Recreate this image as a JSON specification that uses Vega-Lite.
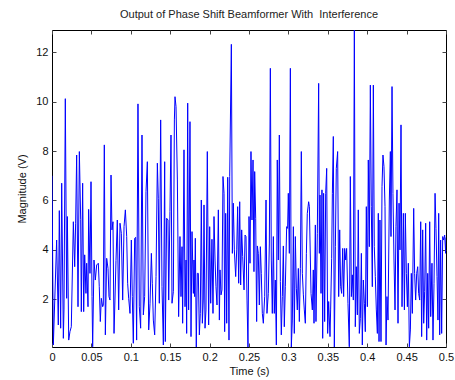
{
  "$schema": "https://vega.github.io/schema/vega-lite/v6.json",
  "autosize": "none",
  "width": 394,
  "height": 317,
  "padding": {"left": 52, "top": 30, "right": 9, "bottom": 33},
  "background": "white",
  "title": {"text": "Output of Phase Shift Beamformer With\u00a0 Interference", "font": "Liberation Sans", "fontSize": 11, "fontWeight": "normal", "color": "#222222", "offset": 10, "anchor": "middle"},
  "config": {
    "view": {"stroke": "black", "strokeWidth": 1},
    "axis": {"domain": false, "grid": false, "labelFlush": false, "labelFont": "Liberation Sans", "labelFontSize": 11, "labelColor": "#111111", "titleFont": "Liberation Sans", "titleFontSize": 11, "titleFontWeight": "normal", "titleColor": "#111111", "tickColor": "#444444", "tickSize": -4, "labelPadding": 8}
  },
  "data": {"values": [
    {"t":0,"v":7.0},{"t":0.0017,"v":0.15},{"t":0.0059,"v":4.4},{"t":0.008,"v":0.96},{"t":0.0093,"v":5.59},{"t":0.011,"v":0.83},{"t":0.0123,"v":6.7},{"t":0.0144,"v":0.42},{"t":0.0152,"v":1.57},{"t":0.0169,"v":10.12},{"t":0.0186,"v":2.04},{"t":0.0195,"v":5.35},{"t":0.0212,"v":0.35},{"t":0.0228,"v":0.69},{"t":0.0245,"v":0.89},{"t":0.0271,"v":5.14},{"t":0.0288,"v":3.32},{"t":0.03,"v":5.08},{"t":0.0313,"v":7.84},{"t":0.033,"v":1.7},{"t":0.0347,"v":7.98},{"t":0.0364,"v":5.24},{"t":0.0372,"v":1.5},{"t":0.0389,"v":6.7},{"t":0.0402,"v":1.5},{"t":0.0415,"v":3.8},{"t":0.0431,"v":2.24},{"t":0.044,"v":3.46},{"t":0.0457,"v":1.7},{"t":0.0465,"v":5.64},{"t":0.0482,"v":3.05},{"t":0.0495,"v":6.76},{"t":0.0508,"v":2.11},{"t":0.0516,"v":0.08},{"t":0.0533,"v":3.59},{"t":0.055,"v":2.78},{"t":0.0567,"v":3.39},{"t":0.0588,"v":3.46},{"t":0.06,"v":2.51},{"t":0.0613,"v":1.1},{"t":0.0626,"v":2.04},{"t":0.0643,"v":1.7},{"t":0.0651,"v":1.77},{"t":0.0664,"v":8.25},{"t":0.0677,"v":0.56},{"t":0.0694,"v":3.66},{"t":0.0711,"v":3.25},{"t":0.0723,"v":2.11},{"t":0.0736,"v":1.97},{"t":0.0749,"v":7.03},{"t":0.0761,"v":4.81},{"t":0.0774,"v":5.14},{"t":0.0787,"v":0.62},{"t":0.0799,"v":1.97},{"t":0.0812,"v":3.57},{"t":0.0829,"v":5.21},{"t":0.0846,"v":1.57},{"t":0.0863,"v":5.08},{"t":0.088,"v":4.67},{"t":0.0897,"v":1.97},{"t":0.0914,"v":4.94},{"t":0.0931,"v":5.62},{"t":0.0948,"v":4.54},{"t":0.096,"v":2.65},{"t":0.0973,"v":2.04},{"t":0.099,"v":1.43},{"t":0.1007,"v":4.4},{"t":0.1019,"v":2.11},{"t":0.1032,"v":0.22},{"t":0.1049,"v":4.47},{"t":0.1062,"v":4.51},{"t":0.1074,"v":0.35},{"t":0.1091,"v":9.91},{"t":0.1108,"v":1.7},{"t":0.1125,"v":0.83},{"t":0.1142,"v":8.65},{"t":0.1159,"v":1.37},{"t":0.1176,"v":2.11},{"t":0.1193,"v":6.36},{"t":0.121,"v":7.57},{"t":0.1227,"v":0.76},{"t":0.1244,"v":1.84},{"t":0.1261,"v":3.86},{"t":0.1273,"v":2.65},{"t":0.1286,"v":1.16},{"t":0.1303,"v":0.56},{"t":0.132,"v":2.92},{"t":0.1337,"v":7.51},{"t":0.1349,"v":6.09},{"t":0.1362,"v":1.84},{"t":0.1379,"v":9.26},{"t":0.1396,"v":2.51},{"t":0.1413,"v":0.15},{"t":0.143,"v":7.57},{"t":0.1438,"v":0.29},{"t":0.1455,"v":5.28},{"t":0.1472,"v":5.21},{"t":0.1481,"v":1.97},{"t":0.1497,"v":5.55},{"t":0.151,"v":8.65},{"t":0.1523,"v":1.84},
    {"t":0.154,"v":2.31},{"t":0.1553,"v":9.26},{"t":0.1561,"v":10.2},{"t":0.1574,"v":9.8},{"t":0.1591,"v":6.83},{"t":0.1607,"v":1.3},{"t":0.1624,"v":4.54},{"t":0.1637,"v":2.11},{"t":0.165,"v":4.13},{"t":0.1658,"v":1.03},{"t":0.1675,"v":8.05},{"t":0.1688,"v":1.7},{"t":0.1701,"v":3.59},{"t":0.1709,"v":0.62},{"t":0.1722,"v":9.94},{"t":0.1734,"v":1.57},{"t":0.1751,"v":9.19},{"t":0.1764,"v":0.49},{"t":0.1777,"v":4.74},{"t":0.1794,"v":2.24},{"t":0.1802,"v":3.59},{"t":0.181,"v":2.11},{"t":0.1819,"v":4.47},{"t":0.1831,"v":0.07},{"t":0.1844,"v":3.05},{"t":0.1857,"v":3.05},{"t":0.187,"v":0.56},{"t":0.1882,"v":1.43},{"t":0.1895,"v":6.02},{"t":0.1908,"v":1.03},{"t":0.192,"v":1.97},{"t":0.1929,"v":5.82},{"t":0.1942,"v":0.83},{"t":0.1954,"v":1.57},{"t":0.1971,"v":7.98},{"t":0.1988,"v":0.96},{"t":0.2001,"v":4.94},{"t":0.2014,"v":1.84},{"t":0.203,"v":4.43},{"t":0.2043,"v":1.43},{"t":0.2056,"v":5.35},{"t":0.2069,"v":3.59},{"t":0.2081,"v":2.51},{"t":0.2094,"v":1.77},{"t":0.2111,"v":5.62},{"t":0.2124,"v":1.16},{"t":0.2132,"v":3.19},{"t":0.2145,"v":2.18},{"t":0.2157,"v":2.38},{"t":0.217,"v":6.97},{"t":0.2183,"v":6.29},{"t":0.2191,"v":0.69},{"t":0.2204,"v":5.48},{"t":0.2217,"v":1.03},{"t":0.223,"v":6.94},{"t":0.2246,"v":0.35},{"t":0.2255,"v":6.97},{"t":0.2276,"v":12.32},{"t":0.2289,"v":3.86},{"t":0.2301,"v":5.89},{"t":0.2314,"v":4.0},{"t":0.2331,"v":2.92},{"t":0.2344,"v":4.0},{"t":0.2356,"v":5.75},{"t":0.2369,"v":2.65},{"t":0.2382,"v":5.95},{"t":0.2394,"v":2.58},{"t":0.2407,"v":4.81},{"t":0.242,"v":3.73},{"t":0.2437,"v":2.38},{"t":0.245,"v":4.6},{"t":0.2462,"v":4.54},{"t":0.2475,"v":1.97},{"t":0.2487,"v":0.07},{"t":0.25,"v":5.35},{"t":0.2513,"v":3.46},{"t":0.2525,"v":7.98},{"t":0.2538,"v":5.21},{"t":0.2551,"v":7.64},{"t":0.2563,"v":3.12},{"t":0.2572,"v":7.17},{"t":0.2585,"v":5.28},{"t":0.2597,"v":1.1},{"t":0.2606,"v":4.16},{"t":0.2618,"v":3.86},{"t":0.2631,"v":1.77},{"t":0.2644,"v":4.13},{"t":0.2656,"v":3.05},{"t":0.2669,"v":1.43},{"t":0.2682,"v":1.03},{"t":0.2699,"v":2.11},{"t":0.2716,"v":6.02},{"t":0.2728,"v":1.43},{"t":0.2745,"v":2.24},{"t":0.2758,"v":4.24},{"t":0.2771,"v":11.35},{"t":0.2783,"v":3.59},{"t":0.2796,"v":1.43},{"t":0.2809,"v":4.54},{"t":0.2821,"v":1.43},{"t":0.2834,"v":2.78},{"t":0.2847,"v":0.15},{"t":0.2859,"v":7.64},{"t":0.2872,"v":3.59},{"t":0.2885,"v":8.65},{"t":0.2898,"v":2.72},{"t":0.291,"v":0.56},{"t":0.2923,"v":2.11},{"t":0.2936,"v":4.16},{"t":0.2948,"v":0.89},{"t":0.2961,"v":2.51},{"t":0.2978,"v":4.94},{"t":0.299,"v":4.87},{"t":0.2999,"v":6.29},{"t":0.3012,"v":3.86},{"t":0.3025,"v":11.35},{"t":0.3037,"v":0.07},{"t":0.305,"v":1.16},{"t":0.3063,"v":4.94},{"t":0.3075,"v":0.62},{"t":0.3088,"v":4.54},{"t":0.3101,"v":2.45},{"t":0.3113,"v":1.57},{"t":0.3126,"v":3.25},{"t":0.3139,"v":1.1},{"t":0.3152,"v":3.25},{"t":0.3164,"v":7.98},{"t":0.3177,"v":3.05},{"t":0.319,"v":2.18},{"t":0.3202,"v":1.57},{"t":0.3215,"v":1.03},{"t":0.3228,"v":3.86},{"t":0.324,"v":5.48},{"t":0.3257,"v":5.95},{"t":0.3266,"v":5.75},
    {"t":0.3287,"v":2.24},{"t":0.3304,"v":1.57},{"t":0.3316,"v":3.19},{"t":0.3325,"v":1.03},{"t":0.3342,"v":5.01},{"t":0.335,"v":1.1},{"t":0.3367,"v":4.67},{"t":0.3384,"v":10.74},{"t":0.3393,"v":3.86},{"t":0.3401,"v":6.22},{"t":0.3414,"v":2.24},{"t":0.3426,"v":6.43},{"t":0.3435,"v":0.42},{"t":0.3447,"v":6.29},{"t":0.346,"v":1.1},{"t":0.3473,"v":6.29},{"t":0.3486,"v":7.3},{"t":0.3498,"v":0.62},{"t":0.3511,"v":1.91},{"t":0.3528,"v":0.49},{"t":0.3536,"v":1.57},{"t":0.3549,"v":3.66},{"t":0.3558,"v":6.29},{"t":0.357,"v":8.59},{"t":0.3583,"v":0.07},{"t":0.3596,"v":4.13},{"t":0.3608,"v":7.3},{"t":0.3625,"v":7.98},{"t":0.3638,"v":2.11},{"t":0.3651,"v":4.81},{"t":0.3663,"v":2.51},{"t":0.3676,"v":2.24},{"t":0.3689,"v":4.06},{"t":0.3701,"v":2.11},{"t":0.3714,"v":4.06},{"t":0.3727,"v":3.59},{"t":0.3739,"v":4.06},{"t":0.3756,"v":1.84},{"t":0.3773,"v":0.08},{"t":0.3786,"v":6.97},{"t":0.3799,"v":2.11},{"t":0.3811,"v":2.99},{"t":0.3824,"v":1.97},{"t":0.3837,"v":12.9},{"t":0.3849,"v":0.89},{"t":0.3862,"v":3.32},{"t":0.3875,"v":1.37},{"t":0.3887,"v":5.62},{"t":0.39,"v":0.62},{"t":0.3913,"v":1.23},{"t":0.3926,"v":3.86},{"t":0.3938,"v":0.15},{"t":0.3951,"v":2.78},{"t":0.3964,"v":1.84},{"t":0.3976,"v":0.69},{"t":0.3989,"v":5.75},{"t":0.4002,"v":1.7},{"t":0.4014,"v":7.64},{"t":0.4027,"v":4.13},{"t":0.404,"v":10.67},{"t":0.4052,"v":5.75},{"t":0.4065,"v":2.51},{"t":0.4078,"v":10.67},{"t":0.409,"v":4.13},{"t":0.4103,"v":2.92},{"t":0.4116,"v":1.57},{"t":0.4129,"v":0.62},{"t":0.4141,"v":5.48},{"t":0.415,"v":0.29},{"t":0.4162,"v":5.21},{"t":0.4175,"v":0.29},{"t":0.4188,"v":6.56},{"t":0.42,"v":7.84},{"t":0.4213,"v":7.37},{"t":0.4226,"v":5.75},{"t":0.4239,"v":0.15},{"t":0.4251,"v":2.11},{"t":0.4264,"v":1.16},{"t":0.4281,"v":6.02},{"t":0.4294,"v":7.98},{"t":0.4302,"v":4.54},{"t":0.4315,"v":10.61},{"t":0.4327,"v":6.29},{"t":0.434,"v":3.59},{"t":0.4353,"v":1.57},{"t":0.4365,"v":4.94},{"t":0.4378,"v":6.43},{"t":0.4391,"v":1.03},{"t":0.4404,"v":5.89},{"t":0.4416,"v":4.0},{"t":0.4429,"v":9.06},{"t":0.4442,"v":1.7},{"t":0.4459,"v":5.48},{"t":0.4472,"v":1.57},{"t":0.4484,"v":5.48},{"t":0.4497,"v":3.05},{"t":0.451,"v":1.7},{"t":0.4522,"v":3.46},{"t":0.4535,"v":0.08},{"t":0.4548,"v":0.76},{"t":0.456,"v":3.05},{"t":0.4573,"v":1.43},{"t":0.459,"v":5.68},{"t":0.4602,"v":3.05},{"t":0.4615,"v":1.97},{"t":0.4628,"v":3.05},{"t":0.4641,"v":3.32},{"t":0.4653,"v":2.24},{"t":0.4666,"v":1.97},{"t":0.4679,"v":5.14},{"t":0.4691,"v":0.49},{"t":0.4704,"v":4.81},{"t":0.4717,"v":1.03},{"t":0.4729,"v":2.31},{"t":0.4742,"v":5.08},{"t":0.4755,"v":0.35},{"t":0.4768,"v":3.05},{"t":0.478,"v":0.83},{"t":0.4793,"v":5.14},{"t":0.4806,"v":1.3},{"t":0.4822,"v":3.46},{"t":0.4835,"v":0.35},{"t":0.4848,"v":2.65},{"t":0.4861,"v":6.29},{"t":0.4873,"v":4.87},{"t":0.4886,"v":2.92},{"t":0.4898,"v":1.16},{"t":0.4907,"v":5.48},{"t":0.492,"v":0.56},{"t":0.4932,"v":4.4},{"t":0.4945,"v":0.62},{"t":0.4958,"v":4.54},{"t":0.497,"v":4.4},{"t":0.4983,"v":4.6},{"t":0.4996,"v":3.86},{"t":0.5,"v":4.5}
  ]},
  "layer": [
    {
      "mark": {"type": "line", "color": "#0000ff", "strokeWidth": 1, "clip": true, "interpolate": "linear"},
      "encoding": {
        "x": {"field": "t", "type": "quantitative", "scale": {"domain": [0, 0.5], "nice": false, "zero": false},
              "axis": {"orient": "bottom", "values": [0, 0.05, 0.1, 0.15, 0.2, 0.25, 0.3, 0.35, 0.4, 0.45, 0.5], "format": ".2~f", "title": "Time (s)", "titlePadding": 3}},
        "y": {"field": "v", "type": "quantitative", "scale": {"domain": [0.07, 12.9], "nice": false, "zero": false},
              "axis": {"orient": "left", "values": [2, 4, 6, 8, 10, 12], "format": "d", "title": "Magnitude (V)", "titlePadding": 8}}
      }
    },
    {
      "mark": {"type": "line", "opacity": 0},
      "encoding": {
        "x": {"field": "t", "type": "quantitative", "axis": {"orient": "top", "values": [0, 0.05, 0.1, 0.15, 0.2, 0.25, 0.3, 0.35, 0.4, 0.45, 0.5], "labels": false, "title": null}},
        "y": {"field": "v", "type": "quantitative", "axis": {"orient": "right", "values": [2, 4, 6, 8, 10, 12], "labels": false, "title": null}}
      }
    }
  ],
  "resolve": {"axis": {"x": "independent", "y": "independent"}}
}
